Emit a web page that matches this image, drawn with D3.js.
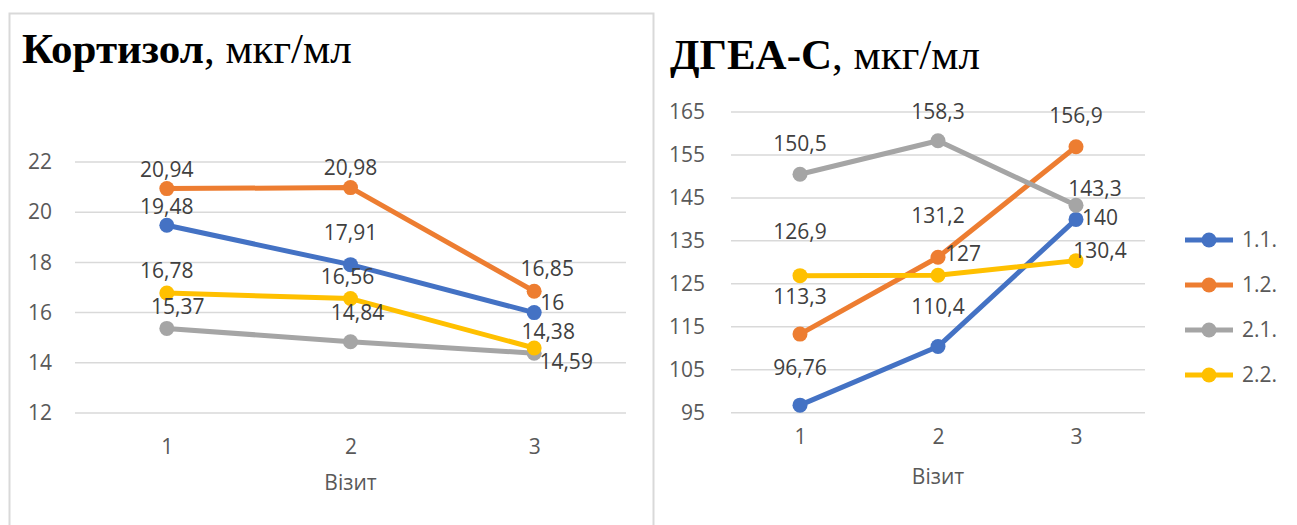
<!DOCTYPE html>
<html>
<head>
<meta charset="utf-8">
<script src="https://cdn.jsdelivr.net/npm/d3@7"></script>
<style>
  body { margin: 0; background: #fff; }
  svg { display: block; }
</style>
</head>
<body>
<div id="chart"></div>
<script>
// data
const visits = ["1", "2", "3"];
const seriesNames = ["1.1.", "1.2.", "2.1.", "2.2."];
const seriesColors = ["#4472C4", "#ED7D31", "#A5A5A5", "#FFC000"];

const cortisol11 = [19.48, 17.91, 16];
const cortisol12 = [20.94, 20.98, 16.85];
const cortisol21 = [15.37, 14.84, 14.38];
const cortisol22 = [16.78, 16.56, 14.59];
const cortisolTicks = [12, 14, 16, 18, 20, 22];

const dhea11 = [96.76, 110.4, 140];
const dhea12 = [113.3, 131.2, 156.9];
const dhea21 = [150.5, 158.3, 143.3];
const dhea22 = [126.9, 127, 130.4];
const dheaTicks = [95, 105, 115, 125, 135, 145, 155, 165];

// label placement (text centre relative to the point), hand tuned like in the original
const cortisolLabelPos = [
  [[0, -19], [0, -32], [18, -10]],
  [[0, -19], [0, -20], [13, -23]],
  [[11, -22], [7, -29], [14, -22]],
  [[0, -22], [-3, -22], [32, 14]]
];
const dheaLabelPos = [
  [[0, -37], [0, -40], [24, -2]],
  [[0, -37], [0, -42], [0, -31]],
  [[0, -31], [0, -29], [19, -17]],
  [[0, -44], [25, -22], [24, -10]]
];

const W = 1297, H = 525;
const sansFont = "'Open Sans', 'Noto Sans', sans-serif";
const serifFont = "'Liberation Serif', 'DejaVu Serif', serif";
const fontSize = 21;

const svg = d3.select("#chart").append("svg")
  .attr("width", W).attr("height", H);

// frame around left chart
svg.append("path")
  .attr("d", "M9.5,525 V13.5 H653.5 V525")
  .attr("fill", "none")
  .attr("stroke", "#d9d9d9")
  .attr("stroke-width", 2);

function fmt(v) {
  return String(v).replace(".", ",");
}

function drawChart(cfg) {
  const g = svg.append("g");

  const title = g.append("text")
    .attr("x", cfg.titleX).attr("y", cfg.titleY)
    .attr("font-family", serifFont)
    .attr("font-size", cfg.titleSize)
    .attr("fill", "#000");
  title.append("tspan").attr("font-weight", "bold").text(cfg.titleBold);
  title.append("tspan").text(cfg.titleRest);

  const x = d3.scalePoint().domain(visits).range(cfg.xRange).padding(0.5);
  const y = d3.scaleLinear().domain(cfg.yDomain).range(cfg.yRange);

  // gridlines
  g.append("g")
    .selectAll("line")
    .data(cfg.ticks)
    .join("line")
    .attr("x1", cfg.xRange[0]).attr("x2", cfg.xRange[1])
    .attr("y1", (d) => y(d)).attr("y2", (d) => y(d))
    .attr("stroke", "#d9d9d9")
    .attr("stroke-width", 1.5);

  // y axis labels
  const yAxis = g.append("g")
    .attr("transform", `translate(${cfg.yLabelX},0)`)
    .call(d3.axisLeft(y).tickValues(cfg.ticks).tickSize(0).tickPadding(0));
  yAxis.select(".domain").remove();
  yAxis.selectAll("text")
    .attr("font-family", sansFont)
    .attr("font-size", fontSize)
    .attr("fill", "#595959");

  // x axis labels
  const xAxis = g.append("g")
    .attr("transform", `translate(0,${cfg.xLabelY})`)
    .call(d3.axisBottom(x).tickSize(0).tickPadding(0));
  xAxis.select(".domain").remove();
  xAxis.selectAll("text")
    .attr("font-family", sansFont)
    .attr("font-size", fontSize)
    .attr("fill", "#595959")
    .attr("dy", "0.35em");

  g.append("text")
    .attr("x", (cfg.xRange[0] + cfg.xRange[1]) / 2)
    .attr("y", cfg.axisTitleY)
    .attr("dy", "0.35em")
    .attr("text-anchor", "middle")
    .attr("font-family", sansFont)
    .attr("font-size", fontSize)
    .attr("fill", "#595959")
    .text("Візит");

  const line = d3.line()
    .x((d, i) => x(visits[i]))
    .y((d) => y(d));

  const series = cfg.series.map((values, s) => ({ values, s }));

  const sg = g.append("g")
    .selectAll("g")
    .data(series)
    .join("g");

  sg.append("path")
    .attr("d", (d) => line(d.values))
    .attr("fill", "none")
    .attr("stroke", (d) => seriesColors[d.s])
    .attr("stroke-width", 5)
    .attr("stroke-linejoin", "round")
    .attr("stroke-linecap", "round");

  sg.selectAll("circle")
    .data((d) => d.values.map((v, i) => ({ v, i, s: d.s })))
    .join("circle")
    .attr("cx", (d) => x(visits[d.i]))
    .attr("cy", (d) => y(d.v))
    .attr("r", 7.5)
    .attr("fill", (d) => seriesColors[d.s]);

  // data labels
  const labels = series.flatMap((d) => d.values.map((v, i) => ({ v, i, s: d.s })));
  g.append("g")
    .selectAll("text")
    .data(labels)
    .join("text")
    .attr("x", (d) => x(visits[d.i]) + cfg.labelPos[d.s][d.i][0])
    .attr("y", (d) => y(d.v) + cfg.labelPos[d.s][d.i][1])
    .attr("dy", "0.35em")
    .attr("text-anchor", "middle")
    .attr("font-family", sansFont)
    .attr("font-size", fontSize)
    .attr("fill", "#404040")
    .text((d) => fmt(d.v));
}

drawChart({
  titleBold: "Кортизол",
  titleRest: ",  мкг/мл",
  titleX: 22, titleY: 63, titleSize: 43,
  series: [cortisol11, cortisol12, cortisol21, cortisol22],
  ticks: cortisolTicks,
  yDomain: [12, 22], yRange: [413, 162],
  xRange: [75, 626],
  yLabelX: 52,
  xLabelY: 447,
  axisTitleY: 483,
  labelPos: cortisolLabelPos
});

drawChart({
  titleBold: "ДГЕА-С",
  titleRest: ", мкг/мл",
  titleX: 670, titleY: 69, titleSize: 43,
  series: [dhea11, dhea12, dhea21, dhea22],
  ticks: dheaTicks,
  yDomain: [95, 165], yRange: [412.7, 112],
  xRange: [731, 1145],
  yLabelX: 705,
  xLabelY: 437,
  axisTitleY: 477,
  labelPos: dheaLabelPos
});

// legend
const legend = svg.append("g")
  .selectAll("g")
  .data(seriesNames)
  .join("g")
  .attr("transform", (d, i) => `translate(1185,${240 + i * 45})`);

legend.append("line")
  .attr("x1", 0).attr("x2", 48)
  .attr("stroke", (d, i) => seriesColors[i])
  .attr("stroke-width", 5);

legend.append("circle")
  .attr("cx", 24).attr("r", 7.5)
  .attr("fill", (d, i) => seriesColors[i]);

legend.append("text")
  .attr("x", 57)
  .attr("dy", "0.35em")
  .attr("font-family", sansFont)
  .attr("font-size", fontSize)
  .attr("fill", "#595959")
  .text((d) => d);
</script>
</body>
</html>
